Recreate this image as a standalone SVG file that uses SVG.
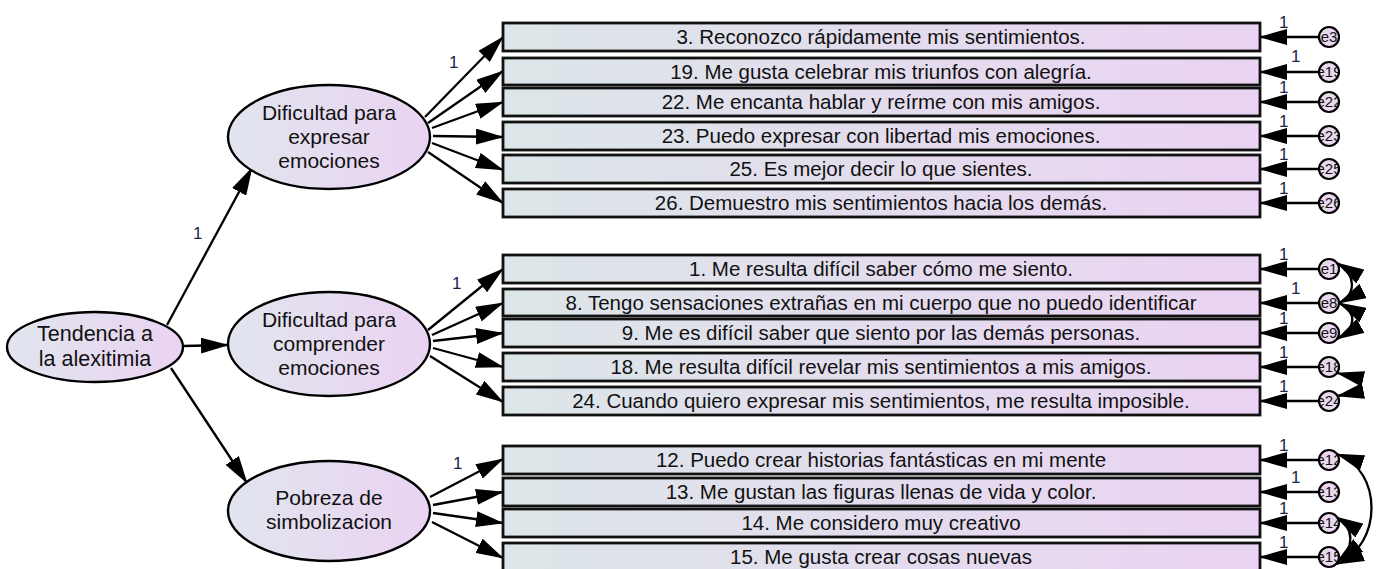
<svg xmlns="http://www.w3.org/2000/svg" width="1378" height="569" viewBox="0 0 1378 569">
<defs>
<linearGradient id="gb" x1="0" y1="0" x2="1" y2="0"><stop offset="0" stop-color="#dce6e8"/><stop offset="1" stop-color="#ead3f3"/></linearGradient>
<linearGradient id="ge" x1="0" y1="0" x2="1" y2="0"><stop offset="0" stop-color="#e1e5ee"/><stop offset="1" stop-color="#ead3f2"/></linearGradient>
<marker id="ah" markerUnits="userSpaceOnUse" markerWidth="28" markerHeight="16" refX="27" refY="8" orient="auto-start-reverse" viewBox="0 0 28 16"><path d="M0,0 L28,8 L0,16 z" fill="#000"/></marker>
<clipPath id="c37"><circle cx="1329" cy="37" r="9.5"/></clipPath>
<clipPath id="c72"><circle cx="1329" cy="72" r="9.5"/></clipPath>
<clipPath id="c102"><circle cx="1329" cy="102" r="9.5"/></clipPath>
<clipPath id="c136"><circle cx="1329" cy="136" r="9.5"/></clipPath>
<clipPath id="c169"><circle cx="1329" cy="169" r="9.5"/></clipPath>
<clipPath id="c203"><circle cx="1329" cy="203" r="9.5"/></clipPath>
<clipPath id="c269"><circle cx="1329" cy="269" r="9.5"/></clipPath>
<clipPath id="c303"><circle cx="1329" cy="303" r="9.5"/></clipPath>
<clipPath id="c333"><circle cx="1329" cy="333" r="9.5"/></clipPath>
<clipPath id="c367"><circle cx="1329" cy="367" r="9.5"/></clipPath>
<clipPath id="c401"><circle cx="1329" cy="401" r="9.5"/></clipPath>
<clipPath id="c460"><circle cx="1329" cy="460" r="9.5"/></clipPath>
<clipPath id="c492"><circle cx="1329" cy="492" r="9.5"/></clipPath>
<clipPath id="c523"><circle cx="1329" cy="523" r="9.5"/></clipPath>
<clipPath id="c557"><circle cx="1329" cy="557" r="9.5"/></clipPath>
</defs>
<style>
.box{fill:url(#gb);stroke:#111;stroke-width:2.8}
.ell{fill:url(#ge);stroke:#000;stroke-width:2.4}
.err{fill:#ead9ee;stroke:#000;stroke-width:2.2}
.t{font-family:"Liberation Sans",Arial,sans-serif;font-size:20.5px;fill:#111;text-anchor:middle}
.te{font-family:"Liberation Sans",Arial,sans-serif;font-size:21px;fill:#111;text-anchor:middle}
.tc{font-family:"Liberation Sans",Arial,sans-serif;font-size:15px;fill:#111;text-anchor:middle}
.one{font-family:"Liberation Sans",Arial,sans-serif;font-size:17px;fill:#1a2548}
.ln{stroke:#000;stroke-width:2.3;fill:none;marker-end:url(#ah)}
.cv{stroke:#000;stroke-width:2.3;fill:none;marker-start:url(#ah);marker-end:url(#ah)}
</style>

<g id="connectors">
<line class="ln" x1="167" y1="325" x2="252" y2="168"/>
<line class="ln" x1="183" y1="346" x2="228" y2="345"/>
<line class="ln" x1="171" y1="368" x2="247" y2="483"/>
<line class="ln" x1="425" y1="117" x2="503" y2="37"/>
<line class="ln" x1="428" y1="123" x2="503" y2="71"/>
<line class="ln" x1="432" y1="128" x2="503" y2="102"/>
<line class="ln" x1="433" y1="136" x2="503" y2="137"/>
<line class="ln" x1="432" y1="143" x2="503" y2="170"/>
<line class="ln" x1="428" y1="152" x2="503" y2="203"/>
<line class="ln" x1="428" y1="330" x2="503" y2="269"/>
<line class="ln" x1="432" y1="335" x2="503" y2="303"/>
<line class="ln" x1="433" y1="341" x2="503" y2="333"/>
<line class="ln" x1="433" y1="348" x2="503" y2="367"/>
<line class="ln" x1="430" y1="356" x2="503" y2="402"/>
<line class="ln" x1="430" y1="497" x2="503" y2="459"/>
<line class="ln" x1="433" y1="505" x2="503" y2="492"/>
<line class="ln" x1="433" y1="513" x2="503" y2="523"/>
<line class="ln" x1="432" y1="522" x2="503" y2="558"/>
<line class="ln" x1="1319" y1="37" x2="1260" y2="37"/>
<line class="ln" x1="1319" y1="72" x2="1260" y2="72"/>
<line class="ln" x1="1319" y1="102" x2="1260" y2="102"/>
<line class="ln" x1="1319" y1="136" x2="1260" y2="136"/>
<line class="ln" x1="1319" y1="169" x2="1260" y2="169"/>
<line class="ln" x1="1319" y1="203" x2="1260" y2="203"/>
<line class="ln" x1="1319" y1="269" x2="1260" y2="269"/>
<line class="ln" x1="1319" y1="303" x2="1260" y2="303"/>
<line class="ln" x1="1319" y1="333" x2="1260" y2="333"/>
<line class="ln" x1="1319" y1="367" x2="1260" y2="367"/>
<line class="ln" x1="1319" y1="401" x2="1260" y2="401"/>
<line class="ln" x1="1319" y1="460" x2="1260" y2="460"/>
<line class="ln" x1="1319" y1="492" x2="1260" y2="492"/>
<line class="ln" x1="1319" y1="523" x2="1260" y2="523"/>
<line class="ln" x1="1319" y1="557" x2="1260" y2="557"/>
<path class="cv" d="M1337,263 C1356,274 1357,294 1339,303"/>
<path class="cv" d="M1339,303 C1357,312 1357,328 1337,339"/>
<path class="cv" d="M1337,373 C1368,380 1368,390 1337,396"/>
<path class="cv" d="M1337,454 C1383,470 1383,545 1337,564"/>
<path class="cv" d="M1336,517 C1355,528 1355,548 1337,562"/>
<text class="one" x="193" y="239">1</text>
<text class="one" x="449" y="68">1</text>
<text class="one" x="452" y="289">1</text>
<text class="one" x="453" y="469">1</text>
<text class="one" x="1279" y="28">1</text>
<text class="one" x="1291" y="62">1</text>
<text class="one" x="1279" y="93">1</text>
<text class="one" x="1279" y="127">1</text>
<text class="one" x="1279" y="160">1</text>
<text class="one" x="1279" y="194">1</text>
<text class="one" x="1279" y="260">1</text>
<text class="one" x="1291" y="294">1</text>
<text class="one" x="1279" y="324">1</text>
<text class="one" x="1279" y="358">1</text>
<text class="one" x="1279" y="392">1</text>
<text class="one" x="1279" y="451">1</text>
<text class="one" x="1291" y="483">1</text>
<text class="one" x="1279" y="514">1</text>
<text class="one" x="1279" y="548">1</text>
</g>

<g id="tendencia"><ellipse class="ell" cx="95" cy="347" rx="88" ry="35"/><text class="te" x="95" y="341" style="font-size:21.5px">Tendencia a</text><text class="te" x="95" y="366" style="font-size:21.5px">la alexitimia</text></g>
<g id="expresar"><ellipse class="ell" cx="329" cy="137" rx="101" ry="52"/><text class="te" x="329" y="120">Dificultad para</text><text class="te" x="329" y="144">expresar</text><text class="te" x="329" y="168">emociones</text></g>
<g id="comprender"><ellipse class="ell" cx="329" cy="344" rx="101" ry="52"/><text class="te" x="329" y="327">Dificultad para</text><text class="te" x="329" y="351">comprender</text><text class="te" x="329" y="375">emociones</text></g>
<g id="pobreza"><ellipse class="ell" cx="329" cy="511" rx="101" ry="50"/><text class="te" x="329" y="505">Pobreza de</text><text class="te" x="329" y="529">simbolizacion</text></g>

<g id="item3"><rect class="box" x="503" y="23" width="757" height="28"/><text class="t" x="881" y="44">3. Reconozco rápidamente mis sentimientos.</text></g>
<g id="item19"><rect class="box" x="503" y="58" width="757" height="27"/><text class="t" x="881" y="79">19. Me gusta celebrar mis triunfos con alegría.</text></g>
<g id="item22"><rect class="box" x="503" y="88" width="757" height="28"/><text class="t" x="881" y="109">22. Me encanta hablar y reírme con mis amigos.</text></g>
<g id="item23"><rect class="box" x="503" y="122" width="757" height="28"/><text class="t" x="881" y="143">23. Puedo expresar con libertad mis emociones.</text></g>
<g id="item25"><rect class="box" x="503" y="155" width="757" height="28"/><text class="t" x="881" y="176">25. Es mejor decir lo que sientes.</text></g>
<g id="item26"><rect class="box" x="503" y="189" width="757" height="28"/><text class="t" x="881" y="210">26. Demuestro mis sentimientos hacia los demás.</text></g>

<g id="item1"><rect class="box" x="503" y="255" width="757" height="28"/><text class="t" x="881" y="276">1. Me resulta difícil saber cómo me siento.</text></g>
<g id="item8"><rect class="box" x="503" y="289" width="757" height="27"/><text class="t" x="881" y="310">8. Tengo sensaciones extrañas en mi cuerpo que no puedo identificar</text></g>
<g id="item9"><rect class="box" x="503" y="319" width="757" height="28"/><text class="t" x="881" y="340">9. Me es difícil saber que siento por las demás personas.</text></g>
<g id="item18"><rect class="box" x="503" y="353" width="757" height="28"/><text class="t" x="881" y="374">18. Me resulta difícil revelar mis sentimientos a mis amigos.</text></g>
<g id="item24"><rect class="box" x="503" y="387" width="757" height="28"/><text class="t" x="881" y="408">24. Cuando quiero expresar mis sentimientos, me resulta imposible.</text></g>

<g id="item12"><rect class="box" x="503" y="446" width="757" height="28"/><text class="t" x="881" y="467">12. Puedo crear historias fantásticas en mi mente</text></g>
<g id="item13"><rect class="box" x="503" y="478" width="757" height="28"/><text class="t" x="881" y="499">13. Me gustan las figuras llenas de vida y color.</text></g>
<g id="item14"><rect class="box" x="503" y="509" width="757" height="28"/><text class="t" x="881" y="530">14. Me considero muy creativo</text></g>
<g id="item15"><rect class="box" x="503" y="543" width="757" height="28"/><text class="t" x="881" y="564">15. Me gusta crear cosas nuevas</text></g>

<g id="e3"><circle class="err" cx="1329" cy="37" r="10"/><text class="tc" x="1329" y="42" clip-path="url(#c37)">e3</text></g>
<g id="e19"><circle class="err" cx="1329" cy="72" r="10"/><text class="tc" x="1329" y="77" clip-path="url(#c72)">e19</text></g>
<g id="e22"><circle class="err" cx="1329" cy="102" r="10"/><text class="tc" x="1329" y="107" clip-path="url(#c102)">e22</text></g>
<g id="e23"><circle class="err" cx="1329" cy="136" r="10"/><text class="tc" x="1329" y="141" clip-path="url(#c136)">e23</text></g>
<g id="e25"><circle class="err" cx="1329" cy="169" r="10"/><text class="tc" x="1329" y="174" clip-path="url(#c169)">e25</text></g>
<g id="e26"><circle class="err" cx="1329" cy="203" r="10"/><text class="tc" x="1329" y="208" clip-path="url(#c203)">e26</text></g>
<g id="e1"><circle class="err" cx="1329" cy="269" r="10"/><text class="tc" x="1329" y="274" clip-path="url(#c269)">e1</text></g>
<g id="e8"><circle class="err" cx="1329" cy="303" r="10"/><text class="tc" x="1329" y="308" clip-path="url(#c303)">e8</text></g>
<g id="e9"><circle class="err" cx="1329" cy="333" r="10"/><text class="tc" x="1329" y="338" clip-path="url(#c333)">e9</text></g>
<g id="e18"><circle class="err" cx="1329" cy="367" r="10"/><text class="tc" x="1329" y="372" clip-path="url(#c367)">e18</text></g>
<g id="e24"><circle class="err" cx="1329" cy="401" r="10"/><text class="tc" x="1329" y="406" clip-path="url(#c401)">e24</text></g>
<g id="e12"><circle class="err" cx="1329" cy="460" r="10"/><text class="tc" x="1329" y="465" clip-path="url(#c460)">e12</text></g>
<g id="e13"><circle class="err" cx="1329" cy="492" r="10"/><text class="tc" x="1329" y="497" clip-path="url(#c492)">e13</text></g>
<g id="e14"><circle class="err" cx="1329" cy="523" r="10"/><text class="tc" x="1329" y="528" clip-path="url(#c523)">e14</text></g>
<g id="e15"><circle class="err" cx="1329" cy="557" r="10"/><text class="tc" x="1329" y="562" clip-path="url(#c557)">e15</text></g>
</svg>
